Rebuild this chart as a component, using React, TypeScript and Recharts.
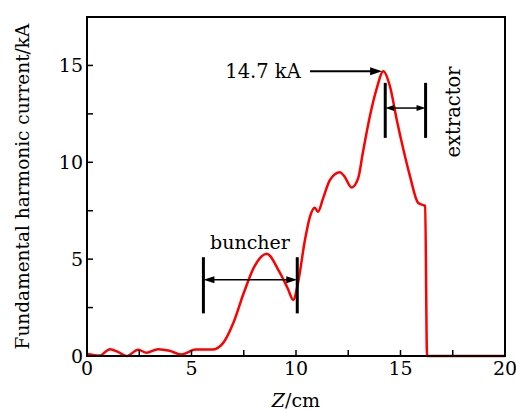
import { LineChart, Line, XAxis, YAxis, ReferenceLine, ReferenceDot, ReferenceArea } from "recharts"

// Fundamental harmonic current along the device
const zPos = [
  0, 0.3, 0.6, 1.1, 1.5, 1.9, 2.45, 2.85, 3.4, 3.95, 4.5, 5.2, 6.0, 6.5, 7.0, 7.5, 8.0, 8.6, 9.2, 9.6,
  9.87, 10.1, 10.43, 10.67, 10.9, 11.05, 11.3, 11.63, 12.1, 12.3, 12.66, 12.98, 13.2, 13.54, 13.86,
  14.18, 14.5, 14.82, 15.13, 15.45, 15.85, 16.12, 16.18, 16.27, 20,
]
const current = [
  0.1, 0.05, 0.02, 0.35, 0.2, 0.0, 0.32, 0.17, 0.35, 0.27, 0.08, 0.33, 0.33, 0.65, 1.7, 3.25, 4.6, 5.28, 4.35, 3.5,
  2.9, 3.8, 6.0, 7.2, 7.65, 7.45, 8.15, 9.1, 9.48, 9.3, 8.7, 9.2, 10.5, 12.4, 13.8,
  14.7, 13.9, 12.2, 10.7, 9.3, 7.9, 7.78, 7.75, 0, 0,
]

const xTicks = [0, 2.5, 5, 7.5, 10, 12.5, 15, 17.5, 20]
const yTicks = [0, 2.5, 5, 7.5, 10, 12.5, 15]
const xLabels = [0, 5, 10, 15, 20]
const yLabels = [0, 5, 10, 15]

// annotation positions in data units
const buncherBars = [5.57, 10.06]
const buncherSpan = [2.2, 5.1]
const buncherArrowY = 3.93
const extractorBars = [14.27, 16.2]
const extractorSpan = [11.26, 14.1]
const extractorArrowY = 12.8
const peakArrowFrom = 10.67
const peakValue = 14.7

const data = zPos.map((z, i) => ({ z, current: current[i] }))

const FONT = "'DejaVu Serif', serif"

const arrowHead = (x: number, y: number, dir: number, len: number, half: number) => (
  <polygon points={`${x},${y} ${x - dir * len},${y - half} ${x - dir * len},${y + half}`} fill="#000" />
)

// horizontal arrow, head at the right end (and optionally at the left)
const makeArrow = (both: boolean, len: number, half: number, width: number) => (props: any) => {
  const { x1, y1, x2 } = props
  const left = Math.min(x1, x2)
  const right = Math.max(x1, x2)
  return (
    <g>
      <line x1={left + (both ? len - 1 : 0)} y1={y1} x2={right - len + 1} y2={y1} stroke="#000" strokeWidth={width} />
      {arrowHead(right, y1, 1, len, half)}
      {both && arrowHead(left, y1, -1, len, half)}
    </g>
  )
}

const textAt = (label: string, size: number, rotate = 0) => (props: any) => {
  const { cx, cy } = props
  return (
    <text
      x={cx}
      y={cy}
      textAnchor="middle"
      dominantBaseline="central"
      fontFamily={FONT}
      fontSize={size}
      fill="#000"
      transform={rotate ? `rotate(${rotate} ${cx} ${cy})` : undefined}
    >
      {label}
    </text>
  )
}

const YTitle = (props: any) => {
  const { viewBox } = props
  const cx = viewBox.x + 22
  const cy = viewBox.y + viewBox.height / 2
  return (
    <text x={cx} y={cy} textAnchor="middle" dominantBaseline="central" fontFamily={FONT} fontSize={18.5}
      transform={`rotate(-90 ${cx} ${cy})`} fill="#000">
      Fundamental harmonic current/kA
    </text>
  )
}

const XTitle = (props: any) => {
  const { viewBox } = props
  const cx = viewBox.x + viewBox.width / 2
  return (
    <text x={cx} y={400} textAnchor="middle" dominantBaseline="central" fontFamily={FONT} fontSize={19} fill="#000">
      <tspan fontStyle="italic">Z</tspan>/cm
    </text>
  )
}

export default function App() {
  return (
    <div style={{ position: "absolute", left: 0, top: 0, background: "#fff" }}>
      <LineChart width={516} height={410} data={data} margin={{ top: 17, right: 11, bottom: 0, left: 0 }}>
        <XAxis
          dataKey="z"
          type="number"
          domain={[0, 20]}
          ticks={xTicks}
          interval={0}
          tickSize={-6}
          tickMargin={12}
          tickFormatter={(v: number) => (xLabels.includes(v) ? String(v) : "")}
          tick={{ fontFamily: FONT, fontSize: 19, fill: "#000" }}
          tickLine={{ stroke: "#000", strokeWidth: 1.5 }}
          axisLine={{ stroke: "#000", strokeWidth: 2 }}
          height={54}
          label={<XTitle />}
        />
        <YAxis
          type="number"
          domain={[0, 17.5]}
          ticks={yTicks}
          interval={0}
          tickSize={-6}
          tickMargin={10}
          tickFormatter={(v: number) => (yLabels.includes(v) ? String(v) : "")}
          tick={{ fontFamily: FONT, fontSize: 19, fill: "#000" }}
          tickLine={{ stroke: "#000", strokeWidth: 1.5 }}
          axisLine={{ stroke: "#000", strokeWidth: 2 }}
          width={87}
          label={<YTitle />}
        />
        <ReferenceArea x1={0} x2={20} y1={0} y2={17.5} fill="none" stroke="#000" strokeWidth={2} />
        <Line
          type="monotone"
          dataKey="current"
          stroke="#ff0000"
          strokeWidth={2.5}
          dot={false}
          isAnimationActive={false}
        />

        {buncherBars.map((x) => (
          <ReferenceLine key={`b${x}`} segment={[{ x, y: buncherSpan[0] }, { x, y: buncherSpan[1] }]} stroke="#000" strokeWidth={3} />
        ))}
        <ReferenceLine
          segment={[{ x: buncherBars[0], y: buncherArrowY }, { x: buncherBars[1], y: buncherArrowY }]}
          shape={makeArrow(true, 11, 3.5, 1.5)}
        />
        <ReferenceDot x={7.8} y={5.9} r={0} shape={textAt("buncher", 19)} />

        {extractorBars.map((x) => (
          <ReferenceLine key={`e${x}`} segment={[{ x, y: extractorSpan[0] }, { x, y: extractorSpan[1] }]} stroke="#000" strokeWidth={3} />
        ))}
        <ReferenceLine
          segment={[{ x: extractorBars[0], y: extractorArrowY }, { x: extractorBars[1], y: extractorArrowY }]}
          shape={makeArrow(true, 9, 3, 1.5)}
        />
        <ReferenceDot x={17.55} y={12.6} r={0} shape={textAt("extractor", 19.5, -90)} />

        <ReferenceLine
          segment={[{ x: peakArrowFrom, y: peakValue }, { x: 14.12, y: peakValue }]}
          shape={makeArrow(false, 12, 4, 2)}
        />
        <ReferenceDot x={8.42} y={peakValue} r={0} shape={textAt("14.7 kA", 19.5)} />
      </LineChart>
    </div>
  )
}
